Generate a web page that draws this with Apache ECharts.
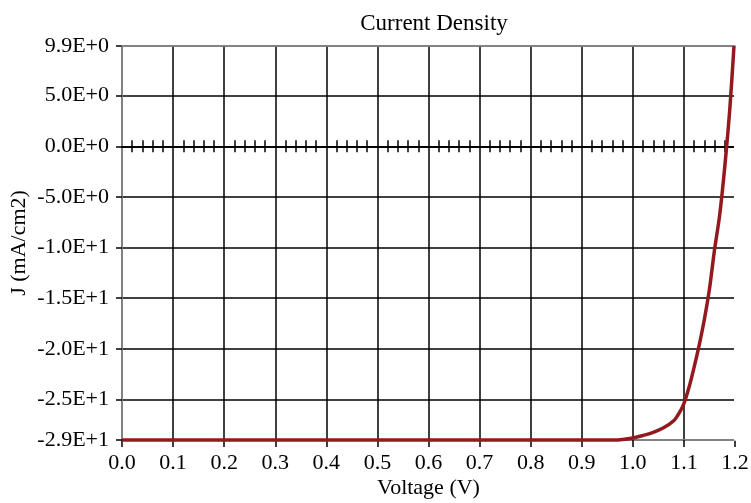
<!DOCTYPE html>
<html>
<head>
<meta charset="utf-8">
<script src="https://cdn.jsdelivr.net/npm/echarts@6/dist/echarts.min.js"></script>
<style>html,body{margin:0;padding:0;background:#fff;}#c{width:751px;height:503px;}</style>
</head>
<body>
<div id="c"></div>
<script>
var titleText = 'Current Density';
var xName = 'Voltage (V)';
var yName = 'J (mA/cm2)';
var voltage = [0.0, 0.1, 0.2, 0.3, 0.4, 0.5, 0.6, 0.7, 0.8, 0.9, 0.96, 0.98, 1.0, 1.02, 1.04, 1.06, 1.08, 1.09, 1.10, 1.11, 1.12, 1.13, 1.14, 1.15, 1.16, 1.17, 1.18, 1.19, 1.198];
var current = [-29.0, -29.0, -29.0, -29.0, -29.0, -29.0, -29.0, -29.0, -29.0, -29.0, -29.0, -28.95, -28.8, -28.55, -28.25, -27.8, -27.1, -26.4, -25.4, -23.8, -21.8, -19.6, -17.1, -14.1, -10.2, -6.8, -2.0, 3.8, 9.9];
var yTickValues = [-29, -25, -20, -15, -10, -5, 0, 5, 9.9];
var yTickLabels = ['-2.9E+1', '-2.5E+1', '-2.0E+1', '-1.5E+1', '-1.0E+1', '-5.0E+0', '0.0E+0', '5.0E+0', '9.9E+0'];

var font = 'Liberation Serif';
var fs = 22;
var chart = echarts.init(document.getElementById('c'));
var zeroAxis = function (inside, pos) {
  return {
    type: 'value', min: 0, max: 1.2, interval: 0.1, position: pos,
    axisLine: { show: true, onZero: true, onZeroAxisIndex: 0, lineStyle: { color: '#000', width: 1.5 } },
    axisTick: { show: false, inside: inside },
    minorTick: { show: true, splitNumber: 5, length: 6, lineStyle: { color: '#000', width: 1.5 } },
    axisLabel: { show: false }, splitLine: { show: false }
  };
};
chart.setOption({
  animation: false,
  backgroundColor: '#fff',
  title: { text: titleText, left: 429, top: 7, textAlign: 'center',
    textStyle: { fontFamily: font, fontSize: 23, fontWeight: 'normal', color: '#000' } },
  grid: { left: 122, right: 16, top: 46, bottom: 63, containLabel: false, outerBoundsMode: 'none' },
  xAxis: [
    { type: 'value', min: 0, max: 1.2, interval: 0.1, position: 'bottom',
      name: xName, nameLocation: 'middle', nameGap: 37, nameMoveOverlap: false,
      nameTextStyle: { fontFamily: font, fontSize: fs, color: '#000' },
      axisLine: { show: true, onZero: false, lineStyle: { color: '#999', width: 1.5 } },
      axisTick: { show: true, length: 7, lineStyle: { color: '#000', width: 1.5 } },
      axisLabel: { margin: 12, fontFamily: font, fontSize: fs, color: '#000',
        formatter: function (v) { return v.toFixed(1); } },
      splitLine: { show: true, lineStyle: { color: '#000', width: 1.5 } } },
    zeroAxis(true, 'bottom'),
    zeroAxis(true, 'top'),
    { type: 'value', min: 0, max: 1.2, position: 'top', z: 5,
      axisLine: { show: true, onZero: false, lineStyle: { color: '#999', width: 1.5 } },
      axisTick: { show: false }, axisLabel: { show: false }, splitLine: { show: false } }
  ],
  yAxis: [{
    type: 'value', min: -29, max: 9.9,
    name: yName, nameLocation: 'middle', nameGap: 92, nameRotate: 90, nameMoveOverlap: false,
    nameTextStyle: { fontFamily: font, fontSize: fs, color: '#000' },
    axisLine: { show: true, lineStyle: { color: '#999', width: 1.5 } },
    axisTick: { show: true, length: 6, customValues: yTickValues, lineStyle: { color: '#000', width: 1.5 } },
    axisLabel: { margin: 13, fontFamily: font, fontSize: fs, color: '#000', customValues: yTickValues,
      formatter: function (v) { var i = yTickValues.indexOf(v); return i >= 0 ? yTickLabels[i] : ''; } },
    splitLine: { show: true, lineStyle: { color: '#000', width: 1.5 } }
  }, {
    type: 'value', min: -29, max: 9.9, position: 'right', z: 5,
    axisLine: { show: true, onZero: false, lineStyle: { color: '#fff', width: 2 } },
    axisTick: { show: false }, axisLabel: { show: false }, splitLine: { show: false }
  }],
  series: [{
    type: 'line', xAxisIndex: 0, yAxisIndex: 0, clip: false,
    data: voltage.map(function (v, i) { return [v, current[i]]; }),
    showSymbol: false, smooth: 0.3,
    lineStyle: { color: '#921a1e', width: 3.5 }, z: 10
  }]
});
</script>
</body>
</html>
